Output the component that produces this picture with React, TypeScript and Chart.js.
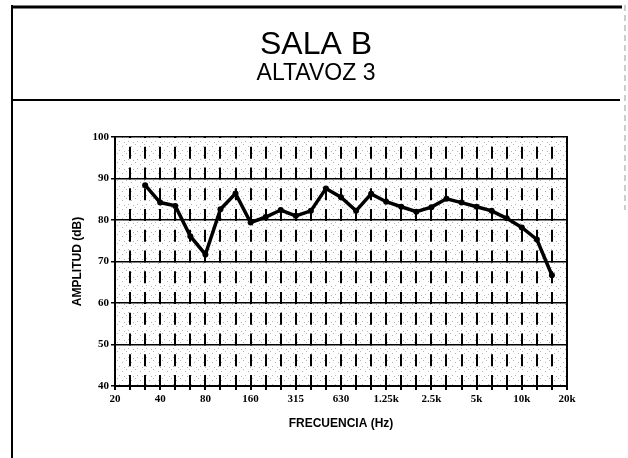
import React, { useEffect, useRef } from "react";
import { Chart, registerables } from "chart.js";

Chart.register(...registerables);

// 1/3-octave band centre frequencies (category axis)
const bands = [
  "20", "25", "31.5", "40", "50", "63", "80", "100", "125", "160", "200",
  "250", "315", "400", "500", "630", "800", "1k", "1.25k", "1.6k", "2k",
  "2.5k", "3.15k", "4k", "5k", "6.3k", "8k", "10k", "12.5k", "16k", "20k",
];
// labels printed under the axis (every third band)
const tickLabels = ["20", "40", "80", "160", "315", "630", "1.25k", "2.5k", "5k", "10k", "20k"];
// measured amplitude (dB)
const amplitude = [
  null, null, 88.4, 84.2, 83.4, 76.1, 71.7, 82.6, 86.4, 79.4, 80.7,
  82.4, 81, 82.2, 87.6, 85.5, 82.2, 86.3, 84.4, 83.2, 82,
  83.1, 85.1, 84.2, 83.2, 82.2, 80.4, 78.2, 75.3, 66.7, null,
];
const yMin = 40;
const yMax = 100;
const yStep = 10;

const titleText = "SALA B";
const subtitleText = "ALTAVOZ 3";
const xTitle = "FRECUENCIA (Hz)";
const yTitle = "AMPLITUD (dB)";

export default function App() {
  const ref = useRef<HTMLCanvasElement | null>(null);

  useEffect(() => {
    const canvas = ref.current;
    if (!canvas) return;

    // stippled background pattern
    const pc = document.createElement("canvas");
    pc.width = 9;
    pc.height = 9;
    const g = pc.getContext("2d")!;
    g.fillStyle = "#ffffff";
    g.fillRect(0, 0, 9, 9);
    g.fillStyle = "#b4b4b4";
    g.fillRect(0, 0, 1, 1);
    g.fillRect(5, 2, 1, 1);
    g.fillRect(2, 6, 1, 1);
    g.fillRect(7, 7, 1, 1);

    const pagePlugin = {
      id: "pageFrame",
      beforeDraw(chart: any) {
        const ctx = chart.ctx as CanvasRenderingContext2D;
        const { left, right, top, bottom } = chart.chartArea;
        ctx.save();
        ctx.fillStyle = "#ffffff";
        ctx.fillRect(0, 0, chart.width, chart.height);
        const pat = ctx.createPattern(pc, "repeat");
        if (pat) {
          ctx.fillStyle = pat;
          ctx.fillRect(left, top, right - left, bottom - top);
        }
        // document frame
        ctx.strokeStyle = "#000";
        ctx.lineWidth = 3;
        ctx.beginPath();
        ctx.moveTo(11, 7);
        ctx.lineTo(622, 7);
        ctx.stroke();
        ctx.lineWidth = 2;
        ctx.beginPath();
        ctx.moveTo(12, 100);
        ctx.lineTo(620, 100);
        ctx.stroke();
        ctx.beginPath();
        ctx.moveTo(12, 5);
        ctx.lineTo(12, 458);
        ctx.stroke();
        ctx.strokeStyle = "#9a9a9a";
        ctx.lineWidth = 1;
        ctx.setLineDash([6, 4]);
        ctx.beginPath();
        ctx.moveTo(625, 5);
        ctx.lineTo(625, 210);
        ctx.stroke();
        ctx.restore();
      },
      afterDatasetsDraw(chart: any) {
        const ctx = chart.ctx as CanvasRenderingContext2D;
        const { right, top, bottom } = chart.chartArea;
        ctx.save();
        ctx.strokeStyle = "#000";
        ctx.lineWidth = 2;
        ctx.beginPath();
        ctx.moveTo(right, top - 1);
        ctx.lineTo(right, bottom + 1);
        ctx.stroke();
        ctx.restore();
      },
    };

    const chart = new Chart(canvas, {
      type: "line",
      data: {
        labels: bands,
        datasets: [
          {
            data: amplitude as any,
            borderColor: "#000",
            backgroundColor: "#000",
            borderWidth: 3.5,
            pointRadius: 3,
            pointBackgroundColor: "#000",
            pointBorderWidth: 0,
            tension: 0,
            spanGaps: false,
          },
        ],
      },
      options: {
        animation: false,
        responsive: false,
        events: [],
        layout: { padding: { left: 65, right: 61, top: 0, bottom: 22 } },
        plugins: {
          legend: { display: false },
          tooltip: { enabled: false },
          title: {
            display: true,
            text: titleText,
            color: "#000",
            font: { family: "'Liberation Sans', Arial, sans-serif", size: 32, weight: "normal", lineHeight: 1 },
            padding: { top: 29, bottom: 0 },
          },
          subtitle: {
            display: true,
            text: subtitleText,
            color: "#000",
            font: { family: "'Liberation Sans', Arial, sans-serif", size: 23, weight: "normal", lineHeight: 1 },
            padding: { top: 1, bottom: 52 },
          },
        },
        scales: {
          x: {
            type: "category",
            afterFit(scale: any) {
              scale.height = 50;
            },
            grid: {
              color: "#000",
              lineWidth: 2,
              drawTicks: true,
              tickLength: 4,
              tickColor: "#000",
              tickWidth: 2,
            },
            border: { display: true, color: "#000", width: 2, dash: [12, 8.75], dashOffset: 11 },
            ticks: {
              autoSkip: false,
              maxRotation: 0,
              minRotation: 0,
              padding: 3,
              color: "#000",
              font: { family: "'Liberation Serif', 'Times New Roman', serif", size: 11, weight: "bold" },
              callback: (_v: any, i: number) => (i % 3 === 0 ? tickLabels[i / 3] : ""),
            },
            title: {
              display: true,
              text: xTitle,
              color: "#000",
              font: { family: "'Liberation Sans', Arial, sans-serif", size: 12, weight: "bold", lineHeight: 1.2 },
              padding: { top: 0, bottom: 5 },
            },
          },
          y: {
            min: yMin,
            max: yMax,
            afterFit(scale: any) {
              scale.width = 50;
            },
            grid: {
              color: "#000",
              lineWidth: 1.5,
              drawTicks: true,
              tickLength: 4,
              tickColor: "#000",
            },
            border: { display: true, color: "#000", width: 2 },
            ticks: {
              stepSize: yStep,
              padding: 2,
              color: "#000",
              font: { family: "'Liberation Serif', 'Times New Roman', serif", size: 11, weight: "bold" },
              callback: (v: any) => String(v),
            },
            title: {
              display: true,
              text: yTitle,
              color: "#000",
              font: { family: "'Liberation Sans', Arial, sans-serif", size: 12, weight: "bold", lineHeight: 1.2 },
              padding: { top: 5, bottom: 0 },
            },
          },
        },
      },
      plugins: [pagePlugin],
    } as any);

    return () => chart.destroy();
  }, []);

  return (
    <div style={{ position: "fixed", left: 0, top: 0, width: 628, height: 458, background: "#fff" }}>
      <canvas ref={ref} width={628} height={458} style={{ display: "block", width: 628, height: 458 }} />
    </div>
  );
}
